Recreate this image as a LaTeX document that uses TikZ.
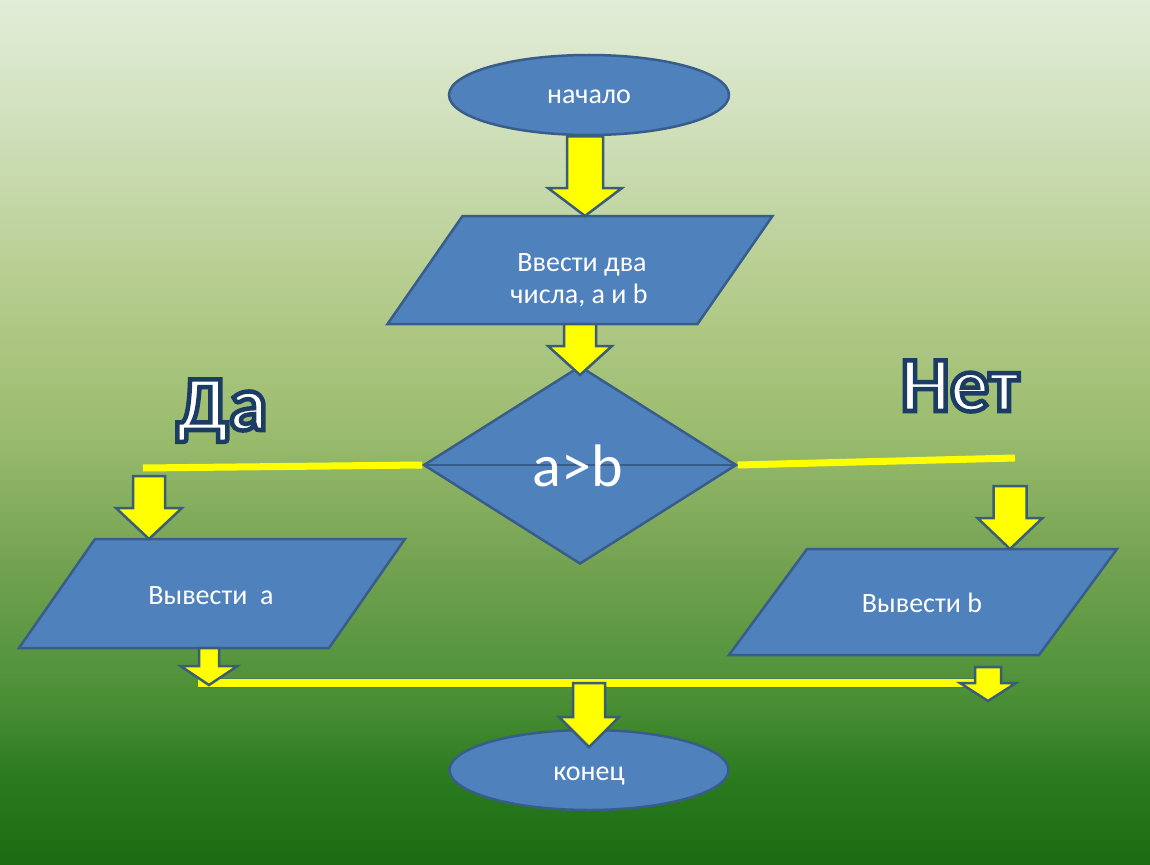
\documentclass[tikz,border=0pt]{standalone}
\usepackage{fontspec}
\setmainfont{Carlito}
\usetikzlibrary{shapes.geometric,calc}
\definecolor{shapefill}{HTML}{4F81BD}
\definecolor{shapeline}{HTML}{385D8A}
\definecolor{arrline}{HTML}{3B5E78}
\definecolor{yel}{HTML}{FFFF00}
\definecolor{bg0}{HTML}{1B6B12}
\definecolor{bg1}{HTML}{2A7A1E}
\definecolor{bg2}{HTML}{4A8F35}
\definecolor{bg3}{HTML}{74A352}
\definecolor{bg4}{HTML}{9BBC6E}
\definecolor{bg5}{HTML}{B3CB8A}
\definecolor{bg6}{HTML}{CCDDB5}
\definecolor{bg7}{HTML}{E2EDD8}
\pgfdeclareverticalshading{bgshade}{100bp}{color(0bp)=(bg0); color(25bp)=(bg0); color(29.9bp)=(bg1); color(34.5bp)=(bg2); color(42.6bp)=(bg3); color(50.1bp)=(bg4); color(57.6bp)=(bg5); color(66.3bp)=(bg6); color(75bp)=(bg7); color(100bp)=(bg7)}
\newcommand\blockarrow[5]{%
  \draw[barrow] let \p1=(#1), \p2=(#2) in
    (\x2-#3pt,\y1) -- (\x2-#3pt,\y2+#5pt) -- (\x2-#4pt,\y2+#5pt) -- (\x2,\y2)
    -- (\x2+#4pt,\y2+#5pt) -- (\x2+#3pt,\y2+#5pt) -- (\x2+#3pt,\y1) -- cycle;}
\newcommand\paradraw[2]{%
  \path[parashape] ([xshift=#2pt]#1.north west) -- ([xshift=#2pt]#1.north east)
    -- ([xshift=-#2pt]#1.south east) -- ([xshift=-#2pt]#1.south west) -- cycle;}
\newcommand\outlinedtext[1]{%
  \special{pdf:literal direct 2 Tr 4.5 w 0.11 0.24 0.39 RG}#1\special{pdf:literal direct 0 Tr}}
\tikzset{
  term/.style={ellipse, draw=shapeline, fill=shapefill, line width=2.5pt,
    minimum width=280pt, minimum height=80pt, inner sep=0pt},
  decis/.style={diamond, draw=shapeline, fill=shapefill, line width=2.5pt,
    minimum width=313pt, minimum height=198pt, inner sep=0pt},
  parabox/.style={rectangle, minimum width=310pt, inner sep=0pt, outer sep=0pt},
  parashape/.style={draw=shapeline, fill=shapefill, line width=2.5pt, line join=miter},
  lbl/.style={text=white, font=\fontsize{28pt}{32pt}\selectfont, inner sep=0pt, anchor=base},
  biglbl/.style={text=white, font=\bfseries\fontsize{78pt}{80pt}\selectfont, inner sep=0pt, anchor=base},
  barrow/.style={draw=arrline, fill=yel, line width=2.5pt, line join=miter},
  yline/.style={draw=yel, line width=7pt},
}
\begin{document}
\begin{tikzpicture}[x=1pt,y=-1pt]
\useasboundingbox (0,0) rectangle (1150,864);
\shade[shading=bgshade] (0,0) rectangle (1150,864);

% shapes
\node[term] (start) at (589,95) {};
\node[parabox, minimum height=108pt] (in1) at (580,270) {};
\paradraw{in1}{37.5}
\node[decis] (dec) at (580,465) {};
\draw[draw=shapeline, line width=2.5pt] (dec.west) -- (dec.east);
\node[parabox, minimum height=109pt] (outa) at (212,593.5) {};
\paradraw{outa}{38}
\node[parabox, minimum height=106pt] (outb) at (923,602) {};
\paradraw{outb}{39}
\node[term, minimum width=279pt] (end) at (589,770) {};

% yellow lines
\coordinate (yesend) at (143,468);
\coordinate (noend) at (1015,458);
\draw[yline] (yesend) -- (dec.west);
\draw[yline] (dec.east) -- (noend);
\coordinate (joinL) at (198,683);
\coordinate (joinR) at (985,683);
\coordinate (joinM) at (589,683);
\draw[draw=arrline, line width=10pt, opacity=0.45] (joinL) -- (joinR);
\draw[draw=yel, line width=7.5pt] (joinL) -- (joinR);

% block arrows
\coordinate (a1t) at (585,216);
\blockarrow{start.south}{a1t}{18}{37}{28}
\coordinate (a2t) at (580,375);
\blockarrow{in1.south}{a2t}{16}{32}{29}
\coordinate (a3s) at (149,476);
\coordinate (a3t) at (149,539);
\blockarrow{a3s}{a3t}{16}{33}{31}
\coordinate (a4s) at (1010,486);
\coordinate (a4t) at (1010,549);
\blockarrow{a4s}{a4t}{16.5}{32.5}{31}
\coordinate (a5t) at (209,685);
\blockarrow{outa.south}{a5t}{10}{28.5}{19}
\coordinate (a6s) at (988,667);
\coordinate (a6t) at (988,701);
\blockarrow{a6s}{a6t}{13}{28}{18}
\coordinate (a7t) at (589,747);
\blockarrow{joinM}{a7t}{16}{30}{30}

% texts
\node[lbl] (t0) at (589,104) {начало};
\node[lbl] (t1a) at (582,271) {Ввести два};
\node[lbl] (t1b) at (579,303) {числа, а и b};
\node[lbl, font=\fontsize{60pt}{64pt}\selectfont] (t2) at (578,486) {a>b};
\node[lbl] (t3) at (211,604) {Вывести\ \ а};
\node[lbl] (t4) at (922,612) {Вывести b};
\node[lbl] (t5) at (589,780) {конец};
\node[biglbl] (yes) at (222,430) {\outlinedtext{Да}};
\node[biglbl] (no) at (960,411) {\outlinedtext{Нет}};
\end{tikzpicture}
\end{document}
